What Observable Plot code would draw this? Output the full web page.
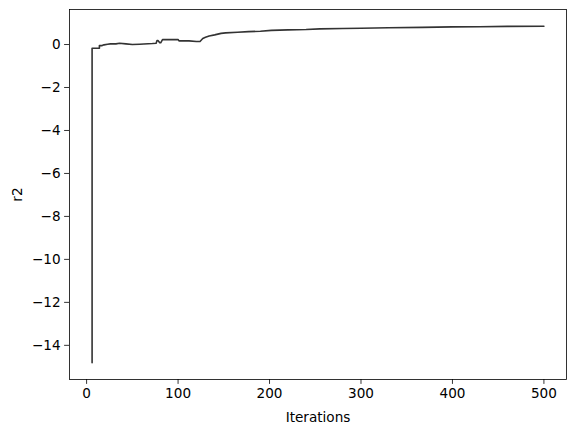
<!DOCTYPE html>
<html>
<head>
<meta charset="utf-8">
<script src="https://cdn.jsdelivr.net/npm/d3@7"></script>
<script src="https://cdn.jsdelivr.net/npm/@observablehq/plot@0.6"></script>
<style>
  html, body { margin: 0; padding: 0; background: white; }
  #chart svg { display: block; }
</style>
</head>
<body>
<div id="chart"></div>
<script>
const iterations = [6, 6, 14, 14, 17, 19, 23, 26, 32, 36, 43, 50, 58, 72, 76, 77, 78, 80, 81, 83, 100, 101, 112, 120, 124, 127, 130, 134, 140, 147, 152, 165, 177, 190, 202, 220, 240, 255, 280, 300, 330, 367, 400, 430, 460, 500];
const r2 = [-14.81, -0.17, -0.17, -0.05, -0.05, -0.015, 0.015, 0.03, 0.03, 0.06, 0.03, 0.0, 0.015, 0.046, 0.06, 0.19, 0.19, 0.08, 0.08, 0.23, 0.23, 0.17, 0.17, 0.14, 0.14, 0.28, 0.34, 0.40, 0.45, 0.52, 0.54, 0.57, 0.60, 0.62, 0.66, 0.68, 0.70, 0.73, 0.745, 0.76, 0.78, 0.80, 0.82, 0.83, 0.845, 0.85];
const xTicks = [0, 100, 200, 300, 400, 500];
const yTicks = [-14, -12, -10, -8, -6, -4, -2, 0];

const data = iterations.map((x, i) => ({x, y: r2[i]}));
const fmt = d => d < 0 ? "\u2212" + Math.abs(d) : String(d);

const chart = Plot.plot({
  width: 574,
  height: 432,
  marginLeft: 69,
  marginRight: 8,
  marginTop: 9,
  marginBottom: 53,
  style: {fontFamily: "DejaVu Sans", fontSize: "13.6px", color: "black", background: "white"},
  x: {domain: [-18.7, 524.7]},
  y: {domain: [-15.59, 1.63]},
  marks: [
    Plot.frame({stroke: "black", strokeWidth: 0.8}),
    Plot.axisX(xTicks, {tickSize: 4.9, tickPadding: 4, strokeWidth: 0.8, stroke: "black", fill: "black", tickFormat: fmt, fontSize: 13.6,
      label: "Iterations", labelAnchor: "center", labelArrow: "none", labelOffset: 42}),
    Plot.axisY(yTicks, {tickSize: 4.9, tickPadding: 4, strokeWidth: 0.8, stroke: "black", fill: "black", tickFormat: fmt, fontSize: 13.6,
      label: "r2", labelAnchor: "center", labelArrow: "none", labelOffset: 57}),
    Plot.line(data, {x: "x", y: "y", stroke: "#333333", strokeWidth: 1.6})
  ]
});
document.getElementById("chart").append(chart);
</script>
</body>
</html>
